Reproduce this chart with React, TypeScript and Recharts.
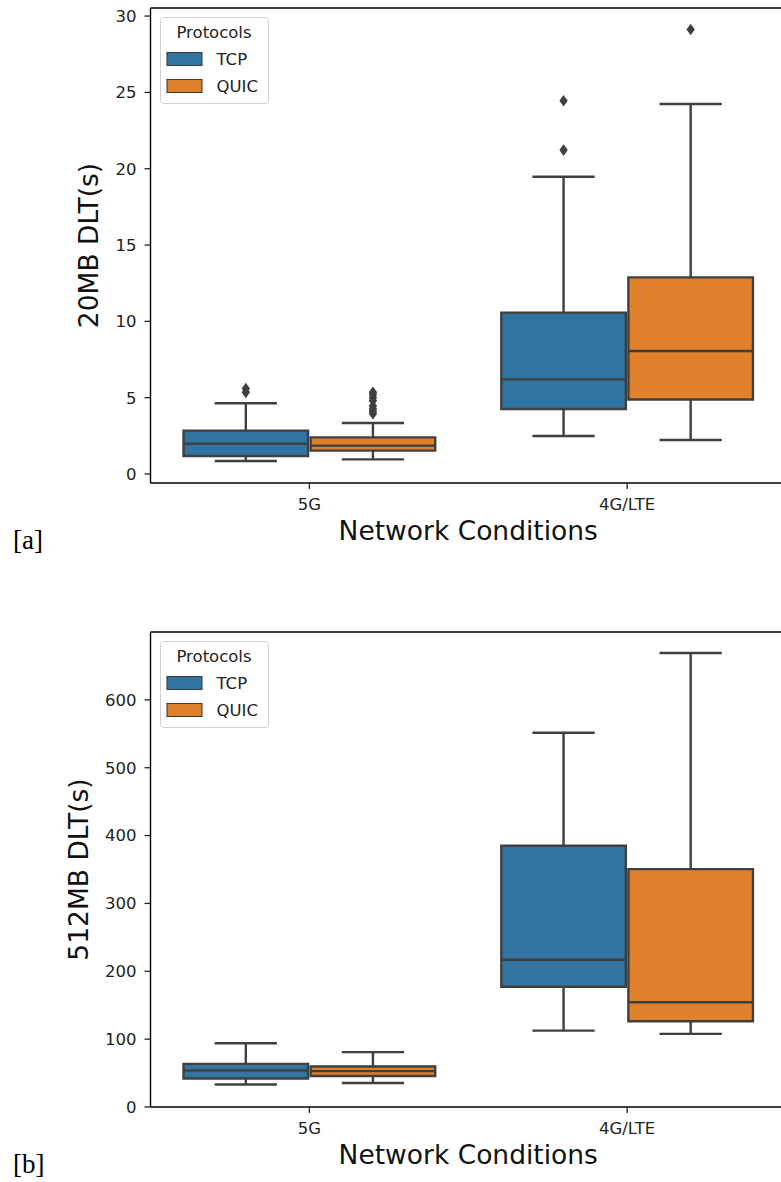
import React from 'react';
import {
  ComposedChart,
  XAxis,
  YAxis,
  Scatter,
  ReferenceArea,
  ReferenceLine,
  Legend,
} from 'recharts';

// ---- data -------------------------------------------------------------
const networkConditions = ['5G', '4G/LTE'];
const protocols = ['TCP', 'QUIC'];
const protocolColors = ['#3274a1', '#e1812c'];

// Box statistics per network condition:
// [lower whisker, Q1, median, Q3, upper whisker]
const tcp20MB = [
  [0.85, 1.18, 1.98, 2.84, 4.63],
  [2.49, 4.26, 6.2, 10.57, 19.47],
];
const quic20MB = [
  [0.96, 1.53, 1.86, 2.4, 3.34],
  [2.23, 4.88, 8.06, 12.88, 24.24],
];
const tcp20MBOutliers = [
  [5.35, 5.6],
  [21.22, 24.45],
];
const quic20MBOutliers = [
  [3.95, 4.1, 4.25, 4.45, 4.8, 5.0, 5.2, 5.35],
  [29.12],
];
const ticks20MB = [0, 5, 10, 15, 20, 25, 30];

const tcp512MB = [
  [33.2, 42, 53.8, 63.5, 94],
  [112.6, 177.2, 217, 385, 551.5],
];
const quic512MB = [
  [35.3, 45.6, 52.9, 59.7, 80.8],
  [107.7, 126.4, 154.3, 350.6, 669],
];
const tcp512MBOutliers: number[][] = [[], []];
const quic512MBOutliers: number[][] = [[], []];
const ticks512MB = [0, 100, 200, 300, 400, 500, 600];

// ---- styling ----------------------------------------------------------
const LINE = '#3f3f3f';
const TEXT = '#222222';
const FONT = 'DejaVu Sans, sans-serif';
const LW = 2.4;
const DODGE = 0.2;
const BOX_HALF = 0.196;
const CAP_HALF = 0.098;

const CHART_W = 820;
const PLOT_LEFT = 150.5;
const PLOT_RIGHT = 786;
const PLOT_TOP = 8;
const PLOT_H = 475;
const X_AXIS_H = 70;

const Diamond = (props: any) => {
  const { cx, cy } = props;
  if (cx == null || cy == null) return null;
  return (
    <path
      d={`M${cx},${cy - 5.8} L${cx + 4.2},${cy} L${cx},${cy + 5.8} L${cx - 4.2},${cy} Z`}
      fill={LINE}
    />
  );
};

const ProtocolLegend = () => (
  <svg width={112} height={90} style={{ display: 'block' }}>
    <rect x={0.5} y={0.5} width={108} height={86} rx={3} fill="#ffffff" fillOpacity={0.8} stroke="#d0d0d0" strokeWidth={1} />
    <text x={54} y={21} textAnchor="middle" fontFamily={FONT} fontSize={16.5} fill={TEXT}>
      Protocols
    </text>
    {protocols.map((name, p) => (
      <g key={name}>
        <rect x={7} y={35.5 + p * 27} width={35} height={13} fill={protocolColors[p]} stroke={LINE} strokeWidth={1.1} />
        <text x={56.5} y={48 + p * 27} fontFamily={FONT} fontSize={16.5} fill={TEXT}>
          {name}
        </text>
      </g>
    ))}
  </svg>
);

type PanelProps = {
  offsetTop: number;
  yLabel: string;
  yLabelX: number;
  domain: [number, number];
  ticks: number[];
  stats: number[][][];
  outliers: number[][][];
};

function BoxPanel({ offsetTop, yLabel, yLabelX, domain, ticks, stats, outliers }: PanelProps) {
  const boxes = stats.flatMap((perCondition, p) =>
    perCondition.map((s, i) => ({ p, i, c: i + (p === 0 ? -DODGE : DODGE), s }))
  );
  const fliers = outliers.map((perCondition, p) =>
    perCondition.flatMap((vals, i) =>
      vals.map((v) => ({ x: i + (p === 0 ? -DODGE : DODGE), y: v }))
    )
  );

  const yLabelContent = (props: any) => {
    const vb = props.viewBox || {};
    const x = (vb.x || 0) + yLabelX;
    const y = (vb.y || 0) + (vb.height || 0) / 2;
    return (
      <text x={x} y={y} transform={`rotate(-90, ${x}, ${y})`} textAnchor="middle" fontFamily={FONT} fontSize={26.5} fill="#111">
        {yLabel}
      </text>
    );
  };
  const xLabelContent = (props: any) => {
    const vb = props.viewBox || {};
    const x = (vb.x || 0) + (vb.width || 0) / 2;
    const y = (vb.y || 0) + 57;
    return (
      <text x={x} y={y} textAnchor="middle" fontFamily={FONT} fontSize={26.5} fill="#111">
        Network Conditions
      </text>
    );
  };

  return (
    <div style={{ position: 'absolute', left: 0, top: offsetTop }}>
      <ComposedChart
        width={CHART_W}
        height={PLOT_TOP + PLOT_H + X_AXIS_H}
        margin={{ top: PLOT_TOP, right: CHART_W - PLOT_RIGHT, bottom: 0, left: 0 }}
      >
        <XAxis
          dataKey="x"
          type="number"
          domain={[-0.5, 1.5]}
          ticks={[0, 1]}
          interval={0}
          allowDataOverflow
          tickFormatter={(v: number) => networkConditions[v] ?? ''}
          height={X_AXIS_H}
          tickSize={6}
          tickMargin={9}
          tick={{ fill: TEXT, fontSize: 16.5, fontFamily: FONT }}
          tickLine={{ stroke: TEXT, strokeWidth: 1.3 }}
          axisLine={{ stroke: '#000', strokeWidth: 1.4 }}
          label={xLabelContent}
        />
        <YAxis
          type="number"
          domain={domain}
          ticks={ticks}
          interval={0}
          allowDataOverflow
          width={PLOT_LEFT}
          tickSize={6}
          tickMargin={8}
          tick={{ fill: TEXT, fontSize: 16.5, fontFamily: FONT }}
          tickLine={{ stroke: TEXT, strokeWidth: 1.3 }}
          axisLine={{ stroke: '#000', strokeWidth: 1.4 }}
          label={yLabelContent}
        />
        {/* top and right frame lines */}
        <ReferenceLine y={domain[1]} stroke="#000" strokeWidth={1.4} />
        <ReferenceLine x={1.5} stroke="#000" strokeWidth={1.4} />

        {boxes.map((b) => (
          <ReferenceArea
            key={`box-${b.p}-${b.i}`}
            x1={b.c - BOX_HALF}
            x2={b.c + BOX_HALF}
            y1={b.s[1]}
            y2={b.s[3]}
            fill={protocolColors[b.p]}
            fillOpacity={1}
            stroke={LINE}
            strokeWidth={LW}
          />
        ))}
        {boxes.map((b) => (
          <ReferenceLine
            key={`median-${b.p}-${b.i}`}
            segment={[
              { x: b.c - BOX_HALF, y: b.s[2] },
              { x: b.c + BOX_HALF, y: b.s[2] },
            ]}
            stroke={LINE}
            strokeWidth={LW}
          />
        ))}
        {boxes.map((b) => (
          <ReferenceLine
            key={`wlo-${b.p}-${b.i}`}
            segment={[
              { x: b.c, y: b.s[1] },
              { x: b.c, y: b.s[0] },
            ]}
            stroke={LINE}
            strokeWidth={LW}
          />
        ))}
        {boxes.map((b) => (
          <ReferenceLine
            key={`whi-${b.p}-${b.i}`}
            segment={[
              { x: b.c, y: b.s[3] },
              { x: b.c, y: b.s[4] },
            ]}
            stroke={LINE}
            strokeWidth={LW}
          />
        ))}
        {boxes.map((b) => (
          <ReferenceLine
            key={`clo-${b.p}-${b.i}`}
            segment={[
              { x: b.c - CAP_HALF, y: b.s[0] },
              { x: b.c + CAP_HALF, y: b.s[0] },
            ]}
            stroke={LINE}
            strokeWidth={LW}
          />
        ))}
        {boxes.map((b) => (
          <ReferenceLine
            key={`chi-${b.p}-${b.i}`}
            segment={[
              { x: b.c - CAP_HALF, y: b.s[4] },
              { x: b.c + CAP_HALF, y: b.s[4] },
            ]}
            stroke={LINE}
            strokeWidth={LW}
          />
        ))}
        {fliers.map((pts, p) => (
          <Scatter
            key={`fliers-${protocols[p]}`}
            name={protocols[p]}
            data={pts}
            dataKey="y"
            shape={Diamond}
            fill={LINE}
            isAnimationActive={false}
          />
        ))}
        <Legend
          layout="vertical"
          align="center"
          verticalAlign="middle"
          content={() => <ProtocolLegend />}
          wrapperStyle={{ left: 160, top: PLOT_TOP + 8.5, width: 112, height: 90 }}
        />
      </ComposedChart>
    </div>
  );
}

export default function App() {
  return (
    <div
      style={{
        position: 'absolute',
        left: 0,
        top: 0,
        width: 781,
        height: 1182,
        overflow: 'hidden',
        background: '#ffffff',
      }}
    >
      <BoxPanel
        offsetTop={0}
        yLabel="20MB DLT(s)"
        yLabelX={98}
        domain={[-0.59, 30.53]}
        ticks={ticks20MB}
        stats={[tcp20MB, quic20MB]}
        outliers={[tcp20MBOutliers, quic20MBOutliers]}
      />
      <BoxPanel
        offsetTop={624}
        yLabel="512MB DLT(s)"
        yLabelX={88}
        domain={[0, 700]}
        ticks={ticks512MB}
        stats={[tcp512MB, quic512MB]}
        outliers={[tcp512MBOutliers, quic512MBOutliers]}
      />
      <svg width={781} height={1182} style={{ position: 'absolute', left: 0, top: 0, pointerEvents: 'none' }}>
        <text x={13} y={549} fontFamily="Liberation Serif, Times New Roman, serif" fontSize={27} fill="#000">
          [a]
        </text>
        <text x={13} y={1173} fontFamily="Liberation Serif, Times New Roman, serif" fontSize={27} fill="#000">
          [b]
        </text>
      </svg>
    </div>
  );
}
